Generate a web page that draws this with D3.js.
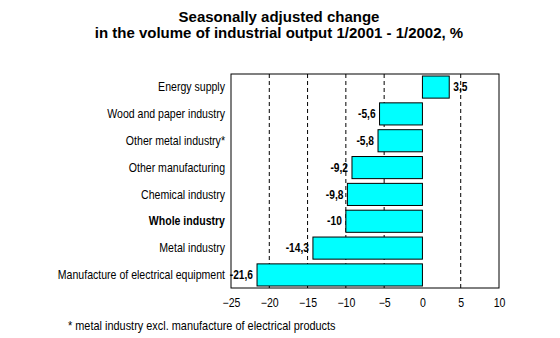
<!DOCTYPE html>
<html>
<head>
<meta charset="utf-8">
<script src="https://cdn.jsdelivr.net/npm/d3@7"></script>
<style>
  body { margin: 0; background: #fff; }
  svg { display: block; }
  text { font-family: "Liberation Sans", Arial, sans-serif; }
</style>
</head>
<body>
<svg id="chart" width="560" height="338"></svg>
<script>
// Chart data
var categories = ["Energy supply", "Wood and paper industry", "Other metal industry*",
  "Other manufacturing", "Chemical industry", "Whole industry", "Metal industry",
  "Manufacture of electrical equipment"];
var values = [3.5, -5.6, -5.8, -9.2, -9.8, -10, -14.3, -21.6];
var valueLabels = ["3,5", "-5,6", "-5,8", "-9,2", "-9,8", "-10", "-14,3", "-21,6"];
var xTicks = [-25, -20, -15, -10, -5, 0, 5, 10];
var gridTicks = [-20, -15, -10, -5, 5];

var svg = d3.select("#chart"),
    margin = {top: 74, right: 61, bottom: 50, left: 231},
    width = +svg.attr("width") - margin.left - margin.right,
    height = +svg.attr("height") - margin.top - margin.bottom,
    g = svg.append("g").attr("transform", "translate(" + margin.left + "," + margin.top + ")");

var x = d3.scaleLinear().domain([-25, 10]).range([0, width]);
var y = d3.scaleBand().domain(categories).range([0, height]).paddingInner(0.176).paddingOuter(0.075);

// narrow text: the original uses a condensed face, so squeeze a normal one
function narrowText(parent, px, py, sx) {
  return parent.append("g")
      .attr("transform", "translate(" + px + "," + py + ") scale(" + sx + ",1)")
    .append("text");
}

// title
svg.append("text")
    .attr("x", 279).attr("y", 22)
    .attr("text-anchor", "middle")
    .attr("font-size", "15px").attr("font-weight", "bold")
    .text("Seasonally adjusted change");
svg.append("text")
    .attr("x", 279).attr("y", 38)
    .attr("text-anchor", "middle")
    .attr("font-size", "15px").attr("font-weight", "bold")
    .text("in the volume of industrial output 1/2001 - 1/2002, %");

// grid lines
g.selectAll(".grid")
  .data(gridTicks)
  .enter().append("line")
    .attr("x1", function(d) { return x(d); })
    .attr("x2", function(d) { return x(d); })
    .attr("y1", 0).attr("y2", height)
    .attr("stroke", "#000")
    .attr("stroke-dasharray", "4,3");

// bars
g.selectAll(".bar")
  .data(values)
  .enter().append("rect")
    .attr("x", function(d) { return x(Math.min(0, d)); })
    .attr("y", function(d, i) { return y(categories[i]); })
    .attr("width", function(d) { return Math.abs(x(d) - x(0)); })
    .attr("height", y.bandwidth())
    .attr("fill", "#00ffff")
    .attr("stroke", "#000")
    .attr("stroke-width", 1);

// value labels
values.forEach(function(d, i) {
  narrowText(g, d < 0 ? x(d) - 4 : x(d) + 4, y(categories[i]) + y.bandwidth() / 2, 0.85)
      .attr("dy", "0.35em")
      .attr("text-anchor", d < 0 ? "end" : "start")
      .attr("font-size", "12px").attr("font-weight", "bold")
      .text(valueLabels[i]);
});

// frame
g.append("rect")
    .attr("width", width).attr("height", height)
    .attr("fill", "none").attr("stroke", "#000");

// category labels
categories.forEach(function(d) {
  narrowText(svg, margin.left - 6, margin.top + y(d) + y.bandwidth() / 2, 0.88)
      .attr("dy", "0.35em")
      .attr("text-anchor", "end")
      .attr("font-size", "12px")
      .attr("font-weight", d == "Whole industry" ? "bold" : "normal")
      .text(d);
});

// X axis
var xAxis = g.append("g")
    .attr("transform", "translate(0," + height + ")")
    .call(d3.axisBottom(x).tickValues(xTicks).tickSize(0).tickPadding(10));
xAxis.select(".domain").remove();
xAxis.selectAll("text")
    .attr("font-size", "12px")
    .attr("font-family", "\"Liberation Sans\", Arial, sans-serif")
    .attr("fill", "#000")
    .attr("transform", "scale(0.88,1)");

// footnote
narrowText(svg, 68, 330, 0.91)
    .attr("font-size", "12px")
    .text("* metal industry excl. manufacture of electrical products");
</script>
</body>
</html>
